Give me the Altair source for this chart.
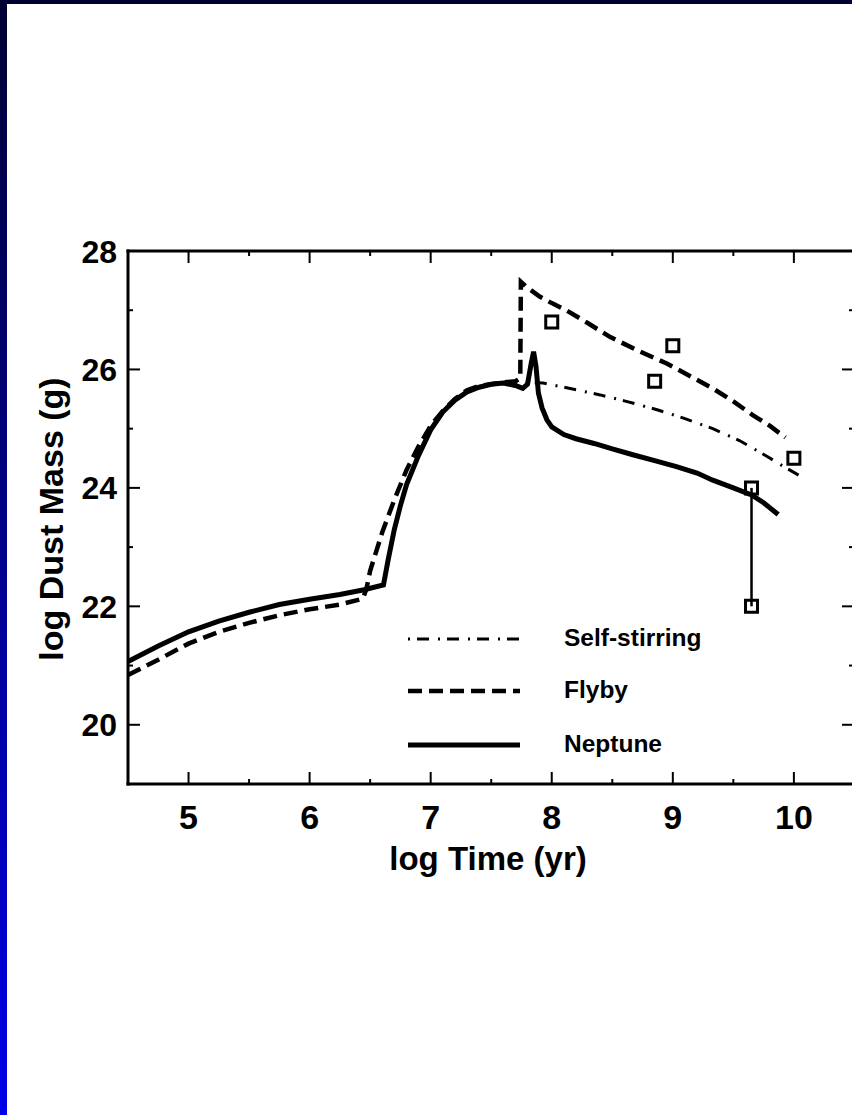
import altair as alt
import pandas as pd

# ---------------- data ----------------
models = ["Self-stirring", "Flyby", "Neptune"]

nep_x = [4.5, 4.75, 5.0, 5.25, 5.5, 5.75, 6.0, 6.25, 6.45, 6.61, 6.65, 6.7, 6.75, 6.8, 6.9,
         7.0, 7.1, 7.2, 7.3, 7.4, 7.5, 7.6, 7.7, 7.76, 7.8, 7.83, 7.85, 7.87, 7.89, 7.92,
         7.96, 8.0, 8.1, 8.2, 8.35, 8.5, 8.67, 8.85, 9.03, 9.2, 9.33, 9.5, 9.65, 9.75, 9.87]
nep_y = [21.07, 21.33, 21.57, 21.75, 21.9, 22.03, 22.12, 22.2, 22.28, 22.36, 22.8, 23.3, 23.7, 24.05, 24.55,
         24.98, 25.28, 25.48, 25.62, 25.7, 25.75, 25.77, 25.73, 25.68, 25.75, 26.1, 26.3, 26.05, 25.6, 25.35,
         25.15, 25.03, 24.9, 24.83, 24.75, 24.66, 24.56, 24.46, 24.36, 24.25, 24.13, 24.0, 23.88, 23.75, 23.55]

fly_x = [4.5, 4.75, 5.0, 5.25, 5.5, 5.75, 6.0, 6.25, 6.44, 6.47, 6.5, 6.6, 6.7, 6.8, 6.9,
         7.0, 7.1, 7.2, 7.3, 7.4, 7.5, 7.6, 7.7, 7.74, 7.745, 7.8, 7.9, 8.0, 8.12, 8.3,
         8.48, 8.7, 8.95, 9.15, 9.33, 9.5, 9.66, 9.8, 9.93]
fly_y = [20.84, 21.1, 21.37, 21.57, 21.72, 21.85, 21.95, 22.03, 22.13, 22.3, 22.6, 23.25, 23.8, 24.3, 24.7,
         25.05, 25.3, 25.5, 25.65, 25.72, 25.75, 25.78, 25.8, 25.85, 27.48, 27.38, 27.23, 27.12, 27.0, 26.78,
         26.55, 26.33, 26.1, 25.88, 25.68, 25.46, 25.23, 25.05, 24.85]

self_x = [7.3, 7.4, 7.5, 7.6, 7.7, 7.8, 7.93, 8.1, 8.4, 8.6, 8.87, 9.1, 9.33, 9.55, 9.78, 9.9, 10.06]
self_y = [25.62, 25.7, 25.74, 25.76, 25.76, 25.78, 25.77, 25.7, 25.57, 25.47, 25.32, 25.17, 25.0, 24.8,
          24.53, 24.38, 24.19]

obs_x = [8.0, 8.85, 9.0, 10.0, 9.65, 9.65]
obs_y = [26.8, 25.8, 26.4, 24.5, 24.0, 22.0]

range_x = [9.65]
range_lo = [22.0]
range_hi = [24.0]

x_labels = [5, 6, 7, 8, 9, 10]
x_minor = [5.5, 6.5, 7.5, 8.5, 9.5]
y_labels = [20, 22, 24, 26, 28]
y_minor = [21, 23, 25, 27]

x_title = "log Time (yr)"
y_title = "log Dust Mass (g)"

# ---------------- layout / style ----------------
W, H = 724, 533
FONT = "Liberation Sans"
xs = alt.Scale(domain=[4.5, 10.48], nice=False, zero=False)
ys = alt.Scale(domain=[19, 28], nice=False, zero=False)

styles = {
    "Self-stirring": dict(strokeDash=[2, 7, 12, 9], strokeWidth=3),
    "Flyby": dict(strokeDash=[14, 7], strokeWidth=4.5),
    "Neptune": dict(strokeWidth=5),
}
legend_row_y = {"Self-stirring": 388, "Flyby": 440, "Neptune": 494}
series = {"Self-stirring": (self_x, self_y), "Flyby": (fly_x, fly_y), "Neptune": (nep_x, nep_y)}

dummy = alt.Data(values=[{"k": 0}])
NOAX = dict(axis=None)

layers = []
for name in ["Flyby", "Self-stirring", "Neptune"]:
    xv, yv = series[name]
    d = pd.DataFrame({"t": xv, "m": yv, "i": list(range(len(xv)))})
    layers.append(
        alt.Chart(d).mark_line(color="black", **styles[name]).encode(
            x=alt.X("t:Q", scale=xs, **NOAX),
            y=alt.Y("m:Q", scale=ys, **NOAX),
            order="i:Q",
        )
    )

obs_df = pd.DataFrame({"t": obs_x, "m": obs_y})
layers.append(
    alt.Chart(obs_df).mark_point(shape="square", filled=False, size=144, strokeWidth=3,
                                 color="black", opacity=1).encode(
        x=alt.X("t:Q", scale=xs, **NOAX), y=alt.Y("m:Q", scale=ys, **NOAX))
)
rng_df = pd.DataFrame({"t": range_x, "lo": range_lo, "hi": range_hi})
layers.append(
    alt.Chart(rng_df).mark_rule(color="black", strokeWidth=2.5).encode(
        x=alt.X("t:Q", scale=xs, **NOAX), y=alt.Y("lo:Q", scale=ys, **NOAX), y2="hi:Q")
)

# ---------------- axes drawn by hand (inward ticks) ----------------
xmaj = pd.DataFrame({"v": x_labels})
xmin = pd.DataFrame({"v": x_minor})
ymaj = pd.DataFrame({"v": y_labels})
ymin = pd.DataFrame({"v": y_minor})
for df_, ln in [(xmaj, 12), (xmin, 5)]:
    layers.append(alt.Chart(df_).mark_rule(color="black", strokeWidth=2).encode(
        x=alt.X("v:Q", scale=xs, **NOAX), y=alt.value(H - ln), y2=alt.value(H)))
    layers.append(alt.Chart(df_).mark_rule(color="black", strokeWidth=2).encode(
        x=alt.X("v:Q", scale=xs, **NOAX), y=alt.value(0), y2=alt.value(ln)))
for df_, ln in [(ymaj, 12), (ymin, 5)]:
    layers.append(alt.Chart(df_).mark_rule(color="black", strokeWidth=2).encode(
        y=alt.Y("v:Q", scale=ys, **NOAX), x=alt.value(0), x2=alt.value(ln)))
    layers.append(alt.Chart(df_).mark_rule(color="black", strokeWidth=2).encode(
        y=alt.Y("v:Q", scale=ys, **NOAX), x=alt.value(W - ln + 2), x2=alt.value(W)))

# frame lines: top, left, bottom
for enc in [dict(x=alt.value(0), x2=alt.value(W), y=alt.value(0)),
            dict(x=alt.value(0), x2=alt.value(W), y=alt.value(H)),
            dict(x=alt.value(0), y=alt.value(0), y2=alt.value(H))]:
    layers.append(alt.Chart(dummy).mark_rule(color="black", strokeWidth=3,
                                             strokeCap="square").encode(**enc))

# tick labels
layers.append(alt.Chart(xmaj).mark_text(align="center", baseline="alphabetic", font=FONT,
                                        fontWeight="bold", fontSize=34, color="black").encode(
    x=alt.X("v:Q", scale=xs, **NOAX), y=alt.value(H + 45), text=alt.Text("v:Q", format="d")))
layers.append(alt.Chart(ymaj).mark_text(align="right", baseline="alphabetic", font=FONT,
                                        fontWeight="bold", fontSize=32, dy=11.5, color="black").encode(
    y=alt.Y("v:Q", scale=ys, **NOAX), x=alt.value(-11), text=alt.Text("v:Q", format="d")))

# axis titles
layers.append(alt.Chart(dummy).mark_text(text=x_title, align="center", baseline="alphabetic",
                                         font=FONT, fontWeight="bold", fontSize=33,
                                         color="black").encode(
    x=alt.value(360), y=alt.value(H + 86)))
layers.append(alt.Chart(dummy).mark_text(text=y_title, align="center", baseline="alphabetic",
                                         angle=270, font=FONT, fontWeight="bold", fontSize=34,
                                         color="black").encode(
    x=alt.value(-65), y=alt.value(268)))

# legend inside the plot
leg_df = pd.DataFrame({"model": models})
for name in models:
    sub = leg_df[leg_df["model"] == name]
    layers.append(
        alt.Chart(sub).mark_rule(color="black", **styles[name]).encode(
            x=alt.value(280), x2=alt.value(392), y=alt.value(legend_row_y[name]))
    )
    layers.append(
        alt.Chart(sub).mark_text(align="left", baseline="middle", font=FONT, fontWeight="bold",
                                 fontSize=24.5, color="black").encode(
            x=alt.value(436), y=alt.value(legend_row_y[name]), text="model:N")
    )

# slide frame decoration
grad = alt.Gradient(gradient="linear",
                    stops=[alt.GradientStop(color="#000033", offset=0),
                           alt.GradientStop(color="#0000e8", offset=1)],
                    x1=0, x2=0, y1=0, y2=1)
layers.append(alt.Chart(dummy).mark_rect(fill=grad).encode(
    x=alt.value(-128), x2=alt.value(-121), y=alt.value(-251), y2=alt.value(864)))
layers.append(alt.Chart(dummy).mark_rect(fill="#000033").encode(
    x=alt.value(-128), x2=alt.value(W), y=alt.value(-251), y2=alt.value(-247)))

chart = (
    alt.layer(*layers)
    .properties(width=W, height=H,
                padding={"left": 128, "top": 251, "right": 0, "bottom": 331},
                autosize=alt.AutoSizeParams(type="none"),
                background="white")
    .configure_view(strokeWidth=0)
)

chart.save("out.html", embed_options={"renderer": "svg", "actions": False})
